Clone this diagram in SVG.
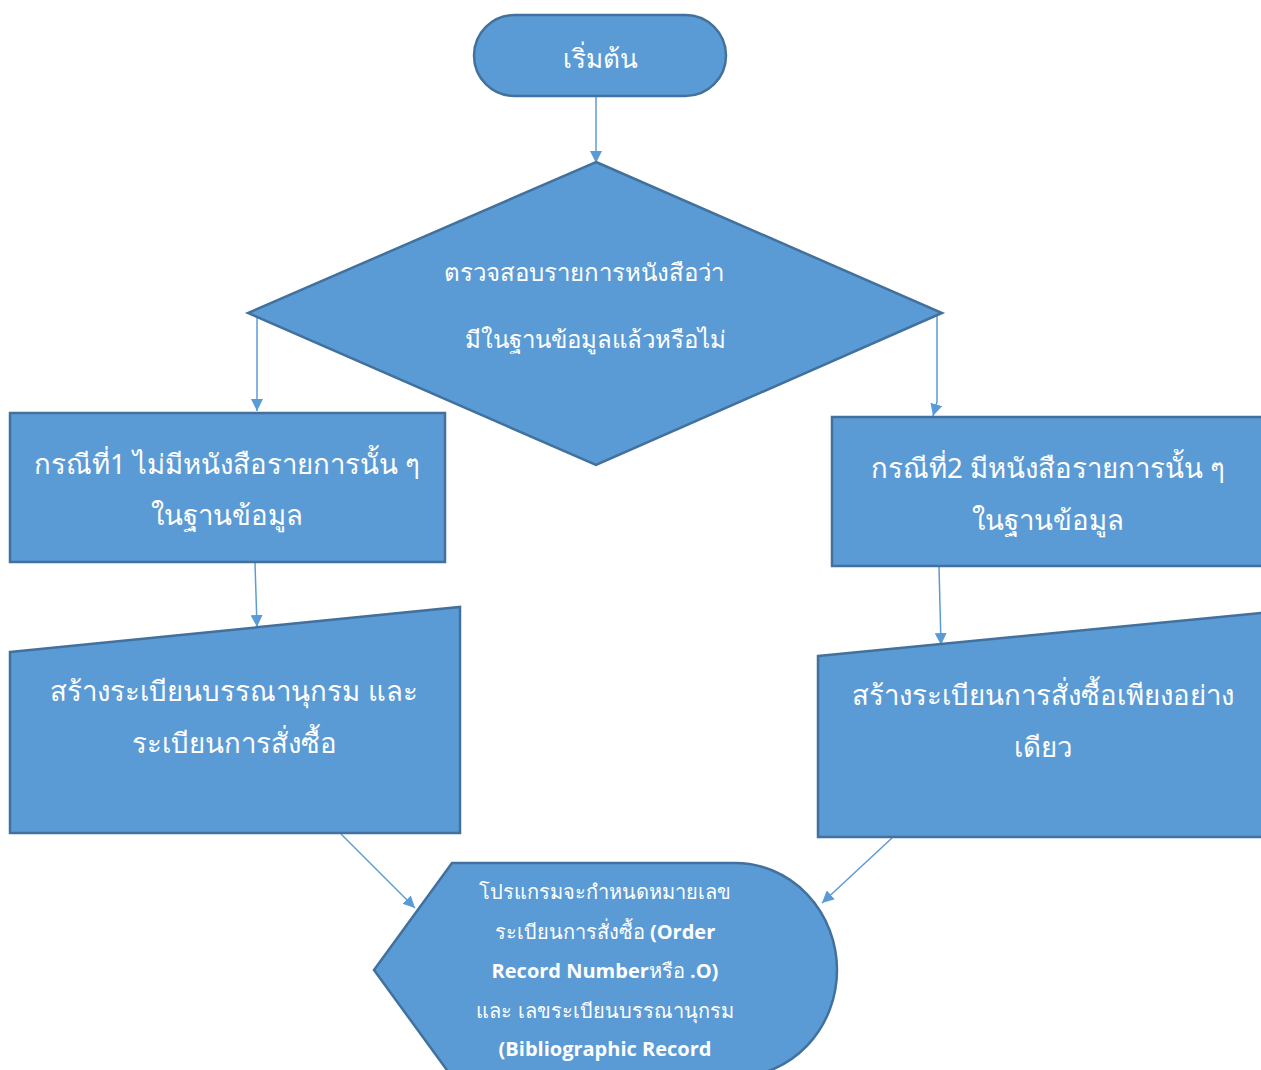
<svg xmlns="http://www.w3.org/2000/svg" width="1261" height="1070" viewBox="0 0 1261 1070">
<style>
.shape{fill:#5B9BD5;stroke:#41719C;stroke-width:2.5}
.t{fill:#FFFFFF;font-family:"Noto Sans","DejaVu Sans",sans-serif;text-anchor:middle}
.conn{stroke:#5B9BD5;stroke-width:1.5;fill:none}
.b{font-family:"Open Sans","Noto Sans",sans-serif;font-weight:bold}
</style>
<defs>
<marker id="arr" viewBox="0 0 10 10" refX="10" refY="5" markerWidth="12" markerHeight="12" markerUnits="userSpaceOnUse" orient="auto">
<path d="M0,0 L10,5 L0,10 z" fill="#5B9BD5"/>
</marker>
</defs>
<g id="connectors">
<line class="conn" x1="596" y1="97" x2="596" y2="163" marker-end="url(#arr)"/>
<line class="conn" x1="257" y1="314" x2="257" y2="411" marker-end="url(#arr)"/>
<polyline class="conn" points="937,314 937,402 933,416" marker-end="url(#arr)"/>
<line class="conn" x1="255" y1="563" x2="257" y2="627" marker-end="url(#arr)"/>
<line class="conn" x1="939" y1="567" x2="941" y2="645" marker-end="url(#arr)"/>
<line class="conn" x1="341" y1="834" x2="415" y2="908" marker-end="url(#arr)"/>
<line class="conn" x1="892" y1="838" x2="822" y2="903" marker-end="url(#arr)"/>
</g>
<g id="start">
<rect class="shape" x="474" y="15" width="252" height="81" rx="40.5"/>
<text class="t" x="600" y="68" font-size="26">เริ่มต้น</text>
</g>
<g id="decision">
<polygon class="shape" points="596,162 942,313 596,465 248,313"/>
<text class="t" x="584" y="281" font-size="24">ตรวจสอบรายการหนังสือว่า</text>
<text class="t" x="595" y="348" font-size="24">มีในฐานข้อมูลแล้วหรือไม่</text>
</g>
<g id="case1">
<rect class="shape" x="10" y="413" width="435" height="149"/>
<text class="t" x="227" y="474" font-size="27.6">กรณีที่1 ไม่มีหนังสือรายการนั้น ๆ</text>
<text class="t" x="227" y="525" font-size="27.6">ในฐานข้อมูล</text>
</g>
<g id="case2">
<rect class="shape" x="832" y="417" width="440" height="149"/>
<text class="t" x="1048" y="478" font-size="27.6">กรณีที่2 มีหนังสือรายการนั้น ๆ</text>
<text class="t" x="1048" y="530" font-size="27.6">ในฐานข้อมูล</text>
</g>
<g id="input1">
<polygon class="shape" points="10,652 460,607 460,833 10,833"/>
<text class="t" x="234" y="701" font-size="27.6">สร้างระเบียนบรรณานุกรม และ</text>
<text class="t" x="234" y="753" font-size="27.6">ระเบียนการสั่งซื้อ</text>
</g>
<g id="input2">
<polygon class="shape" points="818,656 1272,612 1272,837 818,837"/>
<text class="t" x="1043" y="705" font-size="27.6">สร้างระเบียนการสั่งซื้อเพียงอย่าง</text>
<text class="t" x="1043" y="757" font-size="27.6">เดียว</text>
</g>
<g id="display">
<path class="shape" d="M374,970 L452,863 L735,863 A102,107 0 0 1 735,1077 L452,1077 Z"/>
<text class="t" x="605" y="899" font-size="20">โปรแกรมจะกำหนดหมายเลข</text>
<text class="t" x="605" y="939" font-size="20">ระเบียนการสั่งซื้อ <tspan class="b">(Order</tspan></text>
<text class="t" x="605" y="978" font-size="20"><tspan class="b">Record Number</tspan>หรือ <tspan class="b">.O)</tspan></text>
<text class="t" x="605" y="1018" font-size="20">และ เลขระเบียนบรรณานุกรม</text>
<text class="t b" x="605" y="1056" font-size="20">(Bibliographic Record</text>
</g>
</svg>
